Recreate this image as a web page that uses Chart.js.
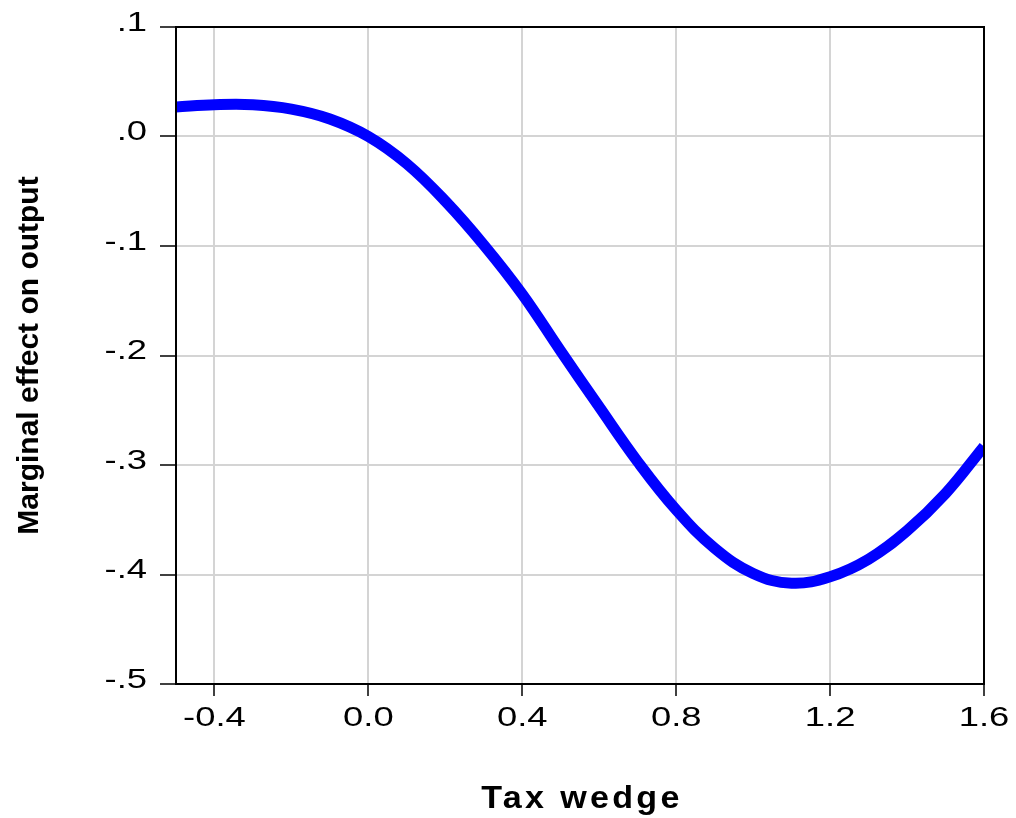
<!DOCTYPE html>
<html>
<head>
<meta charset="utf-8">
<title>Marginal effect on output</title>
<script src="https://cdn.jsdelivr.net/npm/chart.js@4.4.0/dist/chart.umd.min.js"></script>
<style>
html, body { margin: 0; padding: 0; background: #fff; }
#wrap { width: 1016px; height: 818px; }
</style>
</head>
<body>
<div id="wrap"><canvas id="chart"></canvas></div>
<script>
// values
var taxWedge = [-0.5, -0.4, -0.3, -0.2, -0.1, 0.0, 0.1, 0.2, 0.3, 0.4, 0.5,
	0.6, 0.7, 0.8, 0.9, 1.0, 1.1, 1.2, 1.3, 1.4, 1.5, 1.6];
var marginalEffect = [0.027, 0.029, 0.029, 0.025, 0.016, 0.000, -0.025, -0.059, -0.099, -0.144, -0.196,
	-0.247, -0.297, -0.341, -0.376, -0.399, -0.408, -0.402, -0.386, -0.360, -0.326, -0.283];

var xTicks = [-0.4, 0.0, 0.4, 0.8, 1.2, 1.6];
var xTickLabels = ['-0.4', '0.0', '0.4', '0.8', '1.2', '1.6'];
var yTicks = [0.1, 0.0, -0.1, -0.2, -0.3, -0.4, -0.5];
var yTickLabels = ['.1', '.0', '-.1', '-.2', '-.3', '-.4', '-.5'];
var xTitle = 'Tax wedge';
var yTitle = 'Marginal effect on output';

var fontFamily = '"Liberation Sans", Arial, Helvetica, sans-serif';

// the reference text is drawn wide, so labels get a horizontal stretch
function stretchText(ctx, text, x, y, sx) {
	ctx.save();
	ctx.translate(x, y);
	ctx.scale(sx, 1);
	ctx.fillText(text, 0, 0);
	ctx.restore();
}

var frameAndLabels = {
	id: 'frameAndLabels',
	afterDraw: function(chart) {
		var ctx = chart.ctx;
		var area = chart.chartArea;
		var xs = chart.scales.x;
		var ys = chart.scales.y;
		ctx.save();
		ctx.strokeStyle = '#000';
		ctx.lineWidth = 2;
		ctx.strokeRect(area.left, area.top, area.right - area.left, area.bottom - area.top);

		ctx.fillStyle = '#000';
		ctx.font = '28px ' + fontFamily;
		ctx.textAlign = 'center';
		ctx.textBaseline = 'middle';
		for (var i = 0; i < xTicks.length; i++) {
			stretchText(ctx, xTickLabels[i], xs.getPixelForValue(xTicks[i]), area.bottom + 34, 1.3);
		}
		ctx.textAlign = 'right';
		for (var j = 0; j < yTicks.length; j++) {
			stretchText(ctx, yTickLabels[j], area.left - 29, ys.getPixelForValue(yTicks[j]) - 4, 1.3);
		}

		ctx.font = 'bold 31px ' + fontFamily;
		ctx.letterSpacing = '3px';
		ctx.textAlign = 'center';
		ctx.textBaseline = 'alphabetic';
		stretchText(ctx, xTitle, (area.left + area.right) / 2 + 2, area.bottom + 124, 1.1);
		ctx.restore();
	}
};

var points = taxWedge.map(function(x, i) { return {x: x, y: marginalEffect[i]}; });

new Chart(document.getElementById('chart'), {
	type: 'line',
	data: {
		datasets: [{
			data: points,
			borderColor: '#0000ff',
			borderWidth: 11,
			pointRadius: 0,
			tension: 0.4,
			fill: false,
			clip: 0
		}]
	},
	options: {
		responsive: true,
		maintainAspectRatio: false,
		animation: false,
		devicePixelRatio: 1,
		layout: { padding: { top: 27, right: 32, bottom: 0, left: 0 } },
		plugins: {
			legend: { display: false },
			tooltip: { enabled: false }
		},
		scales: {
			x: {
				type: 'linear',
				min: -0.5,
				max: 1.6,
				afterBuildTicks: function(s) { s.ticks = xTicks.map(function(v) { return {value: v}; }); },
				afterFit: function(s) { s.height = 134; },
				ticks: { display: false },
				border: { display: false },
				grid: { color: '#d4d4d4', lineWidth: 2, tickLength: 12, tickColor: '#000', tickWidth: 1.5 }
			},
			y: {
				type: 'linear',
				min: -0.5,
				max: 0.1,
				afterBuildTicks: function(s) { s.ticks = yTicks.map(function(v) { return {value: v}; }); },
				afterFit: function(s) { s.width = 176; },
				ticks: { display: false },
				border: { display: false },
				grid: { color: '#d4d4d4', lineWidth: 2, tickLength: 16, tickColor: '#000', tickWidth: 1.5 },
				title: {
					display: true,
					text: yTitle,
					color: '#000',
					font: { family: fontFamily, size: 30, weight: 'bold' },
					padding: { top: 12, bottom: 0 }
				}
			}
		}
	},
	plugins: [frameAndLabels]
});
</script>
</body>
</html>
